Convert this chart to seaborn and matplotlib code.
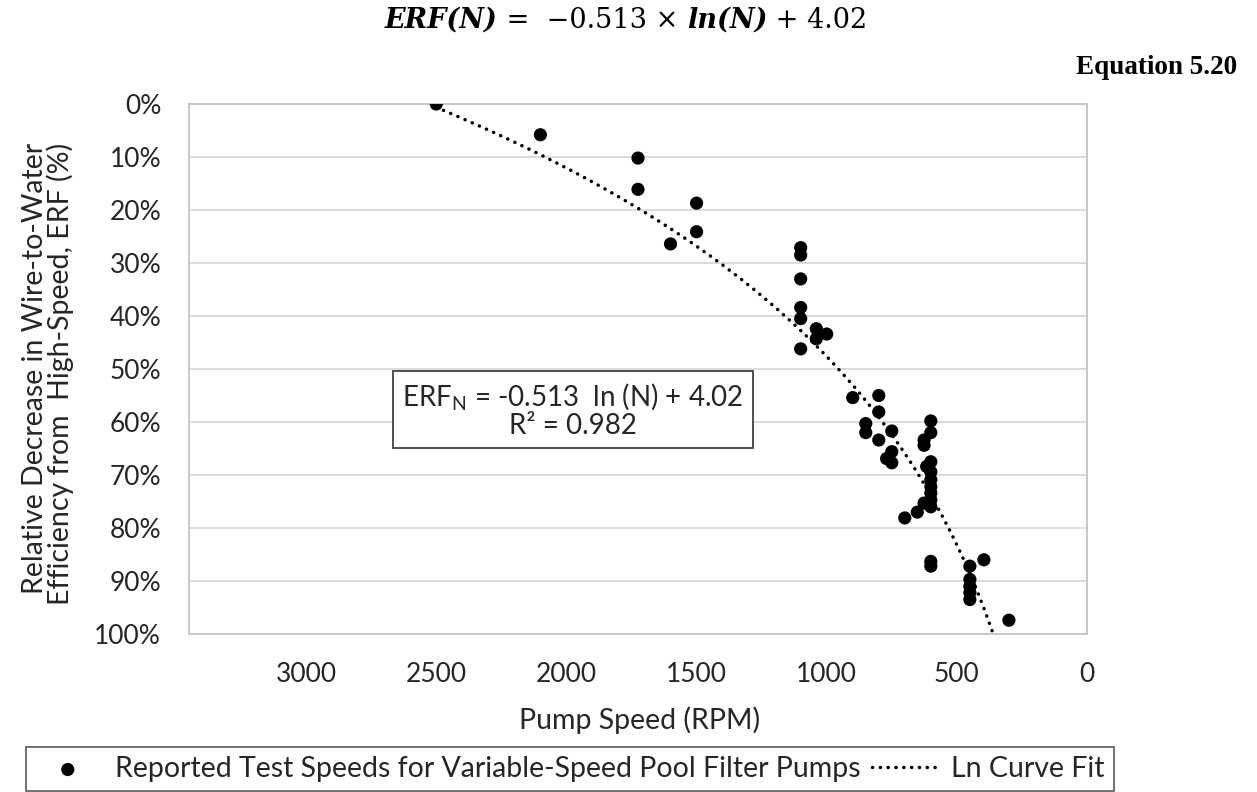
import numpy as np
import pandas as pd
import matplotlib
matplotlib.use("Agg")
import matplotlib.pyplot as plt
import seaborn as sns
from matplotlib.ticker import FuncFormatter

# ---------------- data ----------------
pump_speed_rpm = [2500, 2100, 1725, 1725, 1500, 1500, 1600,
                  1100, 1100, 1100, 1100, 1100, 1100, 1040, 1040, 1000,
                  900, 800, 800, 850, 850, 800, 750, 750, 770, 750,
                  600, 600, 626, 626, 600, 616, 600, 600, 600, 600, 600, 600,
                  626, 652, 700, 600, 600, 450, 450, 450, 450, 450, 396, 300]
erf_pct = [0.0, 5.8, 10.2, 16.1, 18.7, 24.1, 26.4,
           27.1, 28.5, 33.0, 38.4, 40.5, 46.2, 42.4, 44.3, 43.4,
           55.4, 55.0, 58.1, 60.3, 62.0, 63.4, 61.7, 65.6, 66.9, 67.7,
           59.8, 62.0, 63.4, 64.4, 67.5, 68.4, 69.4, 70.9, 72.2, 73.4, 74.7, 76.0,
           75.3, 77.0, 78.1, 86.3, 87.2, 87.2, 89.7, 91.0, 92.2, 93.5, 86.0, 97.4]

fit_slope = -0.513
fit_intercept = 4.02
fit_r2 = 0.982
fit_rpm_start = 2500

x_ticks = [3000, 2500, 2000, 1500, 1000, 500, 0]
y_ticks = [0, 10, 20, 30, 40, 50, 60, 70, 80, 90, 100]

scatter_label = "Reported Test Speeds for Variable-Speed Pool Filter Pumps"
fit_label = "Ln Curve Fit"
x_title = "Pump Speed (RPM)"
y_title = "Relative Decrease in Wire-to-Water\nEfficiency from  High-Speed, ERF (%)"

# ---------------- style ----------------
sns.set_theme(style="white")
plt.rcParams["font.family"] = ["Lato", "DejaVu Sans"]
plt.rcParams["mathtext.default"] = "regular"

W, H = 1257, 792
fig = plt.figure(figsize=(W / 100, H / 100), dpi=100)
ax = fig.add_axes([189 / W, 1 - 634 / H, 898 / W, 530 / H])

text_color = "#262626"
fs_tick = 19
fs = 20.5

df = pd.DataFrame({"rpm": pump_speed_rpm, "erf": erf_pct})
sns.scatterplot(data=df, x="rpm", y="erf", ax=ax, color="black", s=90,
                edgecolor="none", label=scatter_label, zorder=3)

# trendline from the reported coefficients, clipped at 100 %
n_end = np.exp((fit_intercept - 1.0) / (-fit_slope))
n = np.linspace(fit_rpm_start, n_end, 400)
fit_df = pd.DataFrame({"rpm": n, "erf": (fit_slope * np.log(n) + fit_intercept) * 100})
sns.lineplot(data=fit_df, x="rpm", y="erf", ax=ax, color="black", lw=2.5,
             linestyle=(0, (0.05, 2.2)), dash_capstyle="round",
             label=fit_label, sort=False, zorder=2)

ax.set_xlim(3450, 0)
ax.set_ylim(100, 0)
ax.set_xticks(x_ticks)
ax.set_yticks(y_ticks)
ax.yaxis.set_major_formatter(FuncFormatter(lambda v, p: f"{v:.0f}%"))
ax.xaxis.set_major_formatter(FuncFormatter(lambda v, p: f"{v:.0f}"))
ax.tick_params(length=0, pad=20, labelsize=fs_tick, labelcolor=text_color)
ax.yaxis.grid(True, color="#d9d9d9", lw=1.3)
ax.xaxis.grid(False)
for sp in ax.spines.values():
    sp.set_color("#c4c4c4")
    sp.set_linewidth(1.3)
ax.set_xlabel("")
ax.set_ylabel("")

fig.text(640 / W, 1 - 720 / H, x_title, ha="center", va="center",
         fontsize=fs, color=text_color)
fig.text(48 / W, 1 - 374 / H, y_title, ha="center", va="center",
         rotation=90, fontsize=fs, color=text_color,
         multialignment="right", linespacing=0.92)

# fit annotation box
fig.text(573 / W, 1 - 410 / H,
         f"ERF$_\\mathregular{{N}}$ = {fit_slope}  ln (N) + {fit_intercept}\nR² = {fit_r2}",
         ha="center", va="center", fontsize=20, color=text_color,
         multialignment="center", linespacing=1.05,
         bbox=dict(boxstyle="square,pad=0.32", facecolor="white",
                   edgecolor="#404040", lw=1.3))

# legend below
handles, labels = ax.get_legend_handles_labels()
if ax.get_legend() is not None:
    ax.get_legend().remove()
leg = fig.legend(handles, labels, loc="center", bbox_to_anchor=(570 / W, 1 - 769 / H),
                 ncol=2, frameon=True, fancybox=False, fontsize=fs,
                 handlelength=2.3, handletextpad=0.5, columnspacing=0.4,
                 borderpad=0.3, labelcolor=text_color)
leg.get_frame().set_edgecolor("#404040")
leg.get_frame().set_linewidth(1.3)

# equation header
eq_font = dict(fontsize=19.5, family="DejaVu Serif", color="black")
t1 = fig.text(385 / W, 1 - 20 / H, "ERF(N)", style="italic", weight="bold",
              va="center", ha="left", **eq_font)
t2 = ax.annotate(" =  −0.513 × ", xy=(1, 0), xycoords=t1, va="bottom", ha="left",
                 annotation_clip=False, **eq_font)
t3 = ax.annotate("ln(N)", xy=(1, 0), xycoords=t2, va="bottom", ha="left",
                 style="italic", weight="bold", annotation_clip=False, **eq_font)
t4 = ax.annotate(" + 4.02", xy=(1, 0), xycoords=t3, va="bottom", ha="left",
                 annotation_clip=False, **eq_font)

fig.text(1237 / W, 1 - 67 / H, "Equation 5.20", ha="right", va="center",
         fontsize=19.5, family="Liberation Serif", weight="bold", color="black")

fig.savefig("out.png", dpi=100)
